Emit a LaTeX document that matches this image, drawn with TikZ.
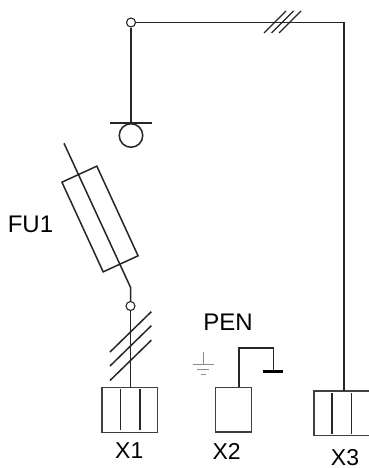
\documentclass[tikz,border=0pt]{standalone}
\usepackage{fontspec}
\setmainfont{Liberation Sans}
\usetikzlibrary{positioning}
\tikzset{
	wire/.style = {draw = black!85, line width = 1.5pt},
	junction/.style = {circle, draw = black!85, line width = 1.1pt, fill = white, inner sep = 0pt, minimum size = 9pt},
	terminal/.style = {rectangle, draw = black!75, line width = 1.4pt, inner sep = 0pt},
	caption/.style = {inner sep = 0pt, font = \fontsize{23}{26}\selectfont},
	bigcaption/.style = {inner sep = 0pt, font = \fontsize{24}{26}\selectfont}
}

\begin{document}
\begin{tikzpicture}[x = 1pt, y = -1pt]
	\useasboundingbox (0, 0) rectangle (369, 468);
	\node[terminal, minimum width = 55.5pt, minimum height = 44.5pt] (boxXone) at (129.8, 410) {};
	\node[terminal, minimum width = 36pt, minimum height = 44.5pt] (boxXtwo) at (233.3, 409.7) {};
	\node[terminal, minimum width = 55.5pt, minimum height = 44.5pt] (boxXthree) at (341.8, 413.2) {};
	\node[junction] (topJoint) at (131, 22.5) {};
	\node[junction] (lowJoint) at (130.5, 306) {};
	\node[circle, wire, inner sep = 0pt, minimum size = 23.5pt] (lamp) at (131, 135.5) {};
	\node[rectangle, wire, inner sep = 0pt, minimum width = 98.7pt, minimum height = 38.4pt, rotate = -65.3] (fuse) at (100, 219) {};
	\coordinate (barLeft) at (110, 123);
	\coordinate (barRight) at (152, 123);
	\coordinate (barMid) at (131, 123);
	\coordinate (corner) at (344, 22.5);
	\coordinate (inXthree) at (344, 390.9);
	\coordinate (inXone) at (130.5, 387.7);
	\coordinate (fuseTop) at (64, 143.3);
	\coordinate (fuseEnd) at (130.5, 287.3);
	\coordinate (inXtwo) at (239, 387.4);
	\coordinate (peLeft) at (262.7, 371.3);
	\coordinate (peRight) at (282.7, 371.3);
	\draw[wire, line width = 1.8pt] (topJoint) -- (corner);
	\draw[wire] (corner) -- (inXthree);
	\draw[wire] (topJoint) -- (barMid);
	\draw[wire] (barLeft) -- (barRight);
	\draw[wire] (fuseTop) -- (fuseEnd) -- (lowJoint);
	\draw[wire] (lowJoint) -- (inXone);
	\draw[wire] (inXtwo) -- (239, 348) -- (273.7, 348) -- (273.7, 371);
	\draw[draw = black, line width = 3pt] (peLeft) -- (peRight);
	\foreach \shift in {0, 7.5, 15} {
		\draw[wire, line width = 1.2pt] (264 + \shift, 33) -- (286 + \shift, 11);
	}
	\foreach \shift in {0, 14, 28.5} {
		\draw[wire] (110, 352 + \shift) -- (151.3, 311.7 + \shift);
	}
	\foreach \posx in {120.5, 140} {
		\draw[wire] (\posx, 389) -- (\posx, 430);
	}
	\foreach \posx in {332, 351.5} {
		\draw[wire] (\posx, 393) -- (\posx, 434);
	}
	\draw[black!45, line width = 0.8pt] (203.3, 352) -- (203.3, 364.3);
	\draw[black!45, line width = 0.8pt] (193.3, 364.3) -- (214, 364.3);
	\draw[black!45, line width = 0.8pt] (197.3, 369.7) -- (209.3, 369.7);
	\draw[black!45, line width = 0.8pt] (201, 374.7) -- (206.3, 374.7);
	\node[bigcaption] (labelFU) at (30.5, 224.5) {FU1};
	\node[bigcaption] (labelPEN) at (228, 322.3) {PEN};
	\node[caption] (labelXone) at (129.3, 451) {X1};
	\node[caption] (labelXtwo) at (226.7, 451) {X2};
	\node[caption] (labelXthree) at (345, 457.5) {X3};
\end{tikzpicture}
\end{document}
